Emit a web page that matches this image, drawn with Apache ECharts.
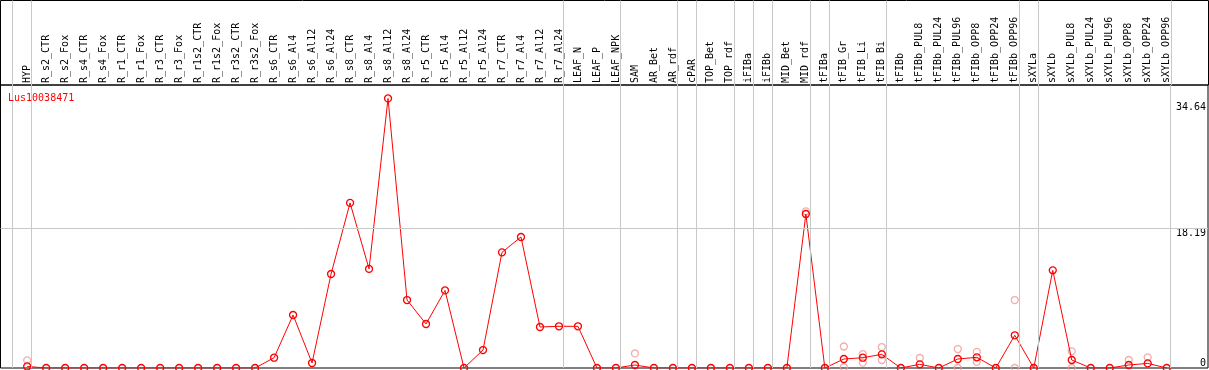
<!DOCTYPE html>
<html>
<head>
<meta charset="utf-8">
<script src="https://cdn.jsdelivr.net/npm/echarts@6/dist/echarts.min.js"></script>
<style>
  html, body { margin: 0; padding: 0; background: #fff; }
  #chart { width: 1209px; height: 370px; }
</style>
</head>
<body>
<div id="chart"></div>
<script>
// sample names along the x axis
const categories = [
  'HYP',
  'R_s2_CTR', 'R_s2_Fox', 'R_s4_CTR', 'R_s4_Fox', 'R_r1_CTR', 'R_r1_Fox', 'R_r3_CTR', 'R_r3_Fox',
  'R_r1s2_CTR', 'R_r1s2_Fox', 'R_r3s2_CTR', 'R_r3s2_Fox',
  'R_s6_CTR', 'R_s6_Al4', 'R_s6_Al12', 'R_s6_Al24',
  'R_s8_CTR', 'R_s8_Al4', 'R_s8_Al12', 'R_s8_Al24',
  'R_r5_CTR', 'R_r5_Al4', 'R_r5_Al12', 'R_r5_Al24',
  'R_r7_CTR', 'R_r7_Al4', 'R_r7_Al12', 'R_r7_Al24',
  'LEAF_N', 'LEAF_P', 'LEAF_NPK',
  'SAM', 'AR_Bet', 'AR_rdf', 'cPAR', 'TOP_Bet', 'TOP_rdf', 'iFIBa', 'iFIBb', 'MID_Bet', 'MID_rdf',
  'tFIBa', 'tFIB_Gr', 'tFIB_Li', 'tFIB_Bi',
  'tFIBb', 'tFIBb_PUL8', 'tFIBb_PUL24', 'tFIBb_PUL96', 'tFIBb_OPP8', 'tFIBb_OPP24', 'tFIBb_OPP96',
  'sXYLa', 'sXYLb', 'sXYLb_PUL8', 'sXYLb_PUL24', 'sXYLb_PUL96', 'sXYLb_OPP8', 'sXYLb_OPP24', 'sXYLb_OPP96'
];

// mean expression per sample (red line)
const meanValues = [
  0.2,
  0, 0, 0, 0, 0, 0, 0, 0, 0, 0, 0, 0,
  1.34, 6.9, 0.65, 12.24,
  21.5, 12.9, 35.1, 8.85,
  5.73, 10.1, 0, 2.34,
  15.06, 17.06, 5.34, 5.43,
  5.43, 0, 0,
  0.39, 0, 0, 0, 0, 0, 0, 0, 0, 20.05,
  0, 1.17, 1.34, 1.78,
  0, 0.48, 0, 1.17, 1.39, 0, 4.26,
  0, 12.72, 1.04, 0, 0, 0.39, 0.6, 0
];

// single replicates [sample index, value] (pale circles)
const replicates = [
  [0, 1.0], [32, 1.9], [41, 20.4],
  [43, 2.8], [43, 0.1], [44, 1.8], [44, 0.7], [45, 2.73], [45, 1.04],
  [47, 1.3], [49, 2.47], [49, 0], [50, 2.1], [50, 0.82],
  [52, 8.85], [52, 0], [55, 2.17], [55, 0], [58, 1.04], [59, 1.39]
];

// last sample index of each group, a grey separator follows it
const groupEnds = [-1, 0, 28, 31, 34, 35, 37, 38, 39, 41, 42, 45, 52, 53, 60];

// labels on the right-hand axis
const yTicks = [0, 18.19, 34.64];

const geneName = 'Lus10038471';

const font = 'DejaVu Sans Mono';
const sepLines = groupEnds.map(i => ({ xAxis: i + 4 / 19 }));
const xMin = -26.7 / 19;
const xMax = (1208 - 26.7) / 19;

const chart = echarts.init(document.getElementById('chart'));
const option = {
  animation: false,
  title: {
    text: geneName,
    left: 8,
    top: 93,
    padding: 0,
    textStyle: { color: '#ff0000', fontFamily: font, fontSize: 10, fontWeight: 'normal' }
  },
  grid: [
    { left: 0.5, right: 0.5, top: 0.5, height: 84.5, show: true, borderColor: '#000', borderWidth: 1, backgroundColor: 'transparent' },
    { left: 0.5, right: 0.5, top: 85, bottom: 2, show: true, borderColor: '#000', borderWidth: 1, backgroundColor: 'transparent' }
  ],
  xAxis: [
    {
      gridIndex: 1,
      type: 'value',
      position: 'top',
      min: xMin,
      max: xMax,
      axisLine: { show: false },
      axisTick: { show: false },
      splitLine: { show: false },
      axisLabel: {
        customValues: categories.map((c, i) => i),
        formatter: v => categories[v],
        rotate: 90,
        margin: 2,
        color: '#000',
        fontFamily: font,
        fontSize: 10
      }
    },
    {
      gridIndex: 0,
      type: 'value',
      min: xMin,
      max: xMax,
      show: false
    }
  ],
  yAxis: [
    {
      gridIndex: 1,
      type: 'value',
      position: 'right',
      min: 0,
      max: 36.85,
      axisLine: { show: false },
      axisTick: { show: false },
      splitLine: { show: false },
      axisLabel: {
        customValues: yTicks,
        inside: true,
        margin: 2,
        color: '#000',
        fontFamily: font,
        fontSize: 10,
        verticalAlign: 'top',
        verticalAlignMinLabel: 'bottom'
      }
    },
    { gridIndex: 0, type: 'value', min: 0, max: 1, show: false }
  ],
  series: [
    {
      type: 'scatter',
      xAxisIndex: 1,
      yAxisIndex: 1,
      data: [],
      silent: true,
      markLine: {
        silent: true,
        symbol: ['none', 'none'],
        label: { show: false },
        lineStyle: { color: '#c8c8c8', width: 1, type: 'solid' },
        data: sepLines
      }
    },
    {
      name: 'replicates',
      type: 'scatter',
      xAxisIndex: 0,
      yAxisIndex: 0,
      symbol: 'circle',
      symbolSize: 7,
      itemStyle: { color: 'rgba(0,0,0,0)', borderColor: '#ee9a9a', borderWidth: 1.3 },
      data: replicates,
      markLine: {
        silent: true,
        symbol: ['none', 'none'],
        label: { show: false },
        lineStyle: { color: '#c8c8c8', width: 1, type: 'solid' },
        data: sepLines.concat([{ yAxis: yTicks[1] }])
      }
    },
    {
      name: geneName,
      type: 'line',
      xAxisIndex: 0,
      yAxisIndex: 0,
      symbol: 'circle',
      symbolSize: 7,
      lineStyle: { color: '#ff0000', width: 1 },
      itemStyle: { color: 'rgba(0,0,0,0)', borderColor: '#ff0000', borderWidth: 1.3 },
      data: meanValues.map((v, i) => [i, v])
    }
  ]
};
chart.setOption(option);
</script>
</body>
</html>
